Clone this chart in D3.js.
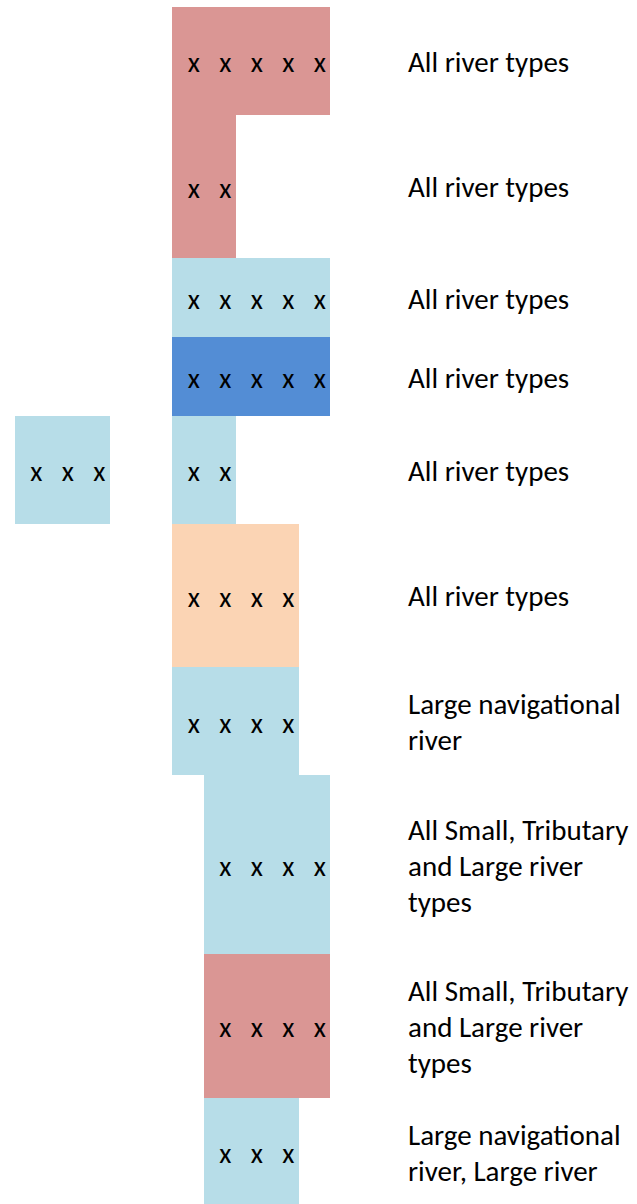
<!DOCTYPE html>
<html>
<head>
<meta charset="utf-8">
<script src="https://cdn.jsdelivr.net/npm/d3@7"></script>
<style>
  html, body { margin: 0; padding: 0; background: #fff; }
  svg { display: block; }
</style>
</head>
<body>
<svg id="chart" width="637" height="1204"></svg>
<script>
// ---- data ----
const rowLabels = [
  ["All river types"],
  ["All river types"],
  ["All river types"],
  ["All river types"],
  ["All river types"],
  ["All river types"],
  ["Large navigational", "river"],
  ["All Small, Tributary", "and Large river", "types"],
  ["All Small, Tributary", "and Large river", "types"],
  ["Large navigational", "river, Large river"]
];
// relative row heights (in text-line units)
const rowUnits = [3, 4, 2.2, 2.2, 3, 4, 3, 5, 4, 3];
// category of each row (drives the colour)
const rowCategory = ["red", "red", "light", "dark", "light", "peach", "light", "light", "red", "light"];
// marked columns per row: [firstColumn, lastColumn] segments on a 10-column grid
const rowSegments = [
  [[5, 9]],
  [[5, 6]],
  [[5, 9]],
  [[5, 9]],
  [[0, 2], [5, 6]],
  [[5, 8]],
  [[5, 8]],
  [[6, 9]],
  [[6, 9]],
  [[6, 8]]
];
const columns = d3.range(10);
const categoryColors = { red: "#DA9694", light: "#B7DDE8", dark: "#538DD5", peach: "#FBD4B4" };

// ---- layout ----
const svg = d3.select("#chart");
const font = "Carlito, Calibri, Lato, 'Open Sans', sans-serif";

const x = d3.scaleBand().domain(columns).range([15, 330]).paddingInner(0).paddingOuter(0);
const cum = [0];
rowUnits.forEach(u => cum.push(cum[cum.length - 1] + u));
const yUnit = d3.scaleLinear().domain([0, cum[cum.length - 1]]).range([7, 7 + 35.88 * cum[cum.length - 1]]);

const color = d3.scaleOrdinal().domain(Object.keys(categoryColors)).range(Object.values(categoryColors));

const rows = rowLabels.map((lab, i) => ({
  i, lab, cat: rowCategory[i], segs: rowSegments[i],
  y0: yUnit(cum[i]), y1: yUnit(cum[i + 1])
}));

const segData = [];
rows.forEach(r => r.segs.forEach(s => segData.push({ r, c0: s[0], c1: s[1] })));

svg.append("g").selectAll("rect").data(segData).join("rect")
  .attr("x", d => Math.floor(x(d.c0)))
  .attr("width", d => Math.round(x(d.c1) + x.bandwidth()) - Math.floor(x(d.c0)))
  .attr("y", d => Math.round(d.r.y0))
  .attr("height", d => Math.round(d.r.y1) - Math.round(d.r.y0))
  .attr("fill", d => color(d.r.cat))
  .attr("shape-rendering", "crispEdges");

const marks = [];
segData.forEach(d => { for (let c = d.c0; c <= d.c1; c++) marks.push({ c, r: d.r }); });

svg.append("g").selectAll("text").data(marks).join("text")
  .attr("x", d => x(d.c) + x.bandwidth() / 2 + 5.5)
  .attr("y", d => (d.r.y0 + d.r.y1) / 2 + 2)
  .attr("text-anchor", "middle")
  .attr("dominant-baseline", "central")
  .attr("font-family", font)
  .attr("font-size", 28)
  .attr("fill", "#000")
  .text("x");

const labG = svg.append("g");
rows.forEach(r => {
  const cy = (r.y0 + r.y1) / 2;
  const n = r.lab.length;
  labG.append("g").selectAll("text").data(r.lab).join("text")
    .attr("x", 408)
    .attr("y", (d, k) => cy + (k - (n - 1) / 2) * 36 + 1)
    .attr("dominant-baseline", "central")
    .attr("font-family", font)
    .attr("font-size", 29)
    .attr("fill", "#000")
    .text(d => d);
});
</script>
</body>
</html>
